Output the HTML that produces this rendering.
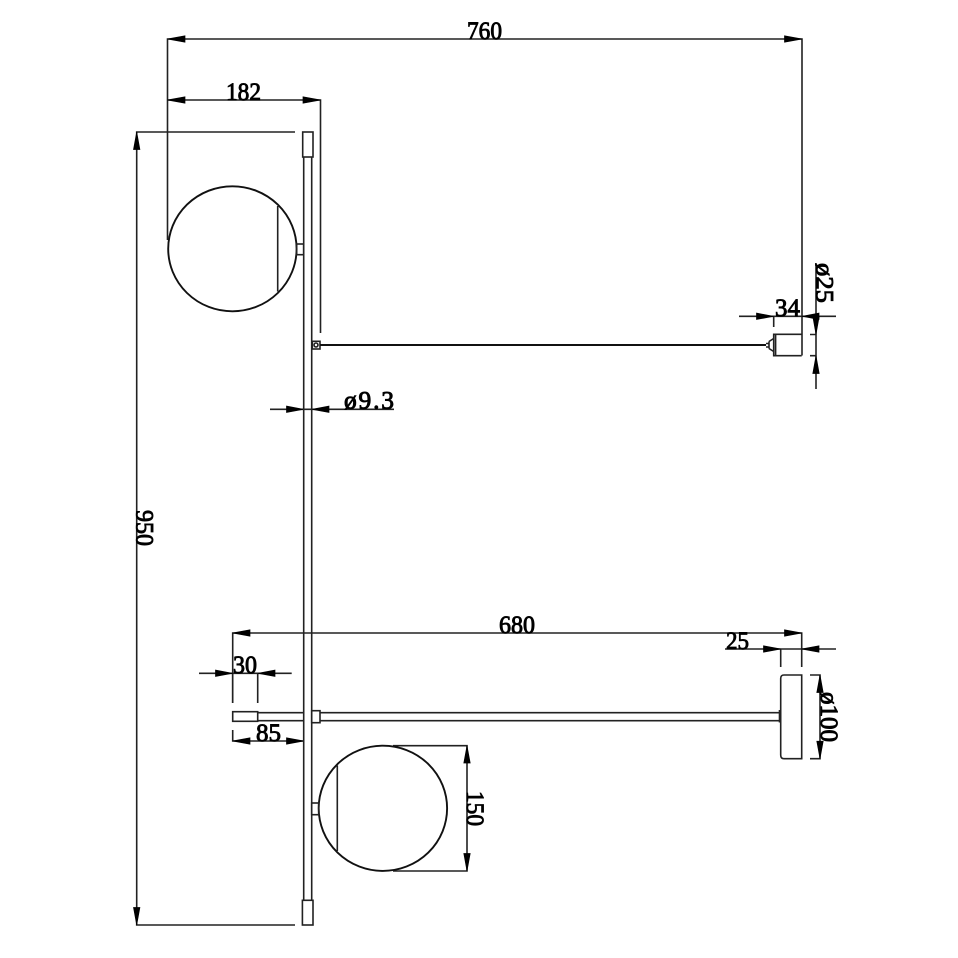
<!DOCTYPE html>
<html>
<head>
<meta charset="utf-8">
<style>
html,body{margin:0;padding:0;background:#fff;}
svg{display:block;}
text{font-family:"Liberation Serif","Noto Serif CJK SC",serif;font-size:25.5px;fill:#000;stroke:#000;stroke-width:.9px;}
.l{fill:none;stroke:#222;stroke-width:1.6;}
.t{fill:none;stroke:#111;stroke-width:1.9;}
.a{fill:#000;stroke:#000;stroke-width:.7;}
</style>
</head>
<body>
<svg width="958" height="958" viewBox="0 0 958 958" xmlns="http://www.w3.org/2000/svg">
<rect width="958" height="958" fill="#fff"/>

<!-- dimension lines -->
<path class="l" d="M167.5 240V39H802V355.5"/>
<path class="l" d="M167.5 100H320.5V333"/>
<path class="l" d="M295 132H136.7V925H295"/>
<path class="l" d="M270 409.3H394"/>
<path class="l" d="M739 316.3H836"/>
<path class="l" d="M773.7 316.3V327"/>
<path class="l" d="M816 263V389"/>
<path class="l" d="M810 334.5H816M810 355.7H816"/>
<path class="l" d="M232.7 703V633H801.7V667"/>
<path class="l" d="M725 649H836"/>
<path class="l" d="M780.7 649V667"/>
<path class="l" d="M199 673.3H291.7"/>
<path class="l" d="M232.7 673V703M257.7 673V703"/>
<path class="l" d="M232.7 730V741H303.7"/>
<path class="l" d="M810 675H820V758.7H810"/>
<path class="l" d="M393 745.7H467V871H393"/>

<!-- arrowheads -->
<g class="a">
<path d="M167.5 39L185 35.8V42.2Z"/>
<path d="M802 39L784.5 35.8V42.2Z"/>
<path d="M167.5 100L185 96.8V103.2Z"/>
<path d="M320.5 100L303 96.8V103.2Z"/>
<path d="M136.7 132L133.5 149.5H139.9Z"/>
<path d="M136.7 925L133.5 907.5H139.9Z"/>
<path d="M303.7 409.3L286.5 406.1V412.5Z"/>
<path d="M311.7 409.3L329 406.1V412.5Z"/>
<path d="M773.7 316.3L756.5 313.1V319.5Z"/>
<path d="M802 316.3L819 313.1V319.5Z"/>
<path d="M816 334.5L812.8 316.5H819.2Z"/>
<path d="M816 355.7L812.8 373.5H819.2Z"/>
<path d="M232.7 633L250 629.8V636.2Z"/>
<path d="M801.7 633L784.5 629.8V636.2Z"/>
<path d="M780.7 649L763.5 645.8V652.2Z"/>
<path d="M801.7 649L819 645.8V652.2Z"/>
<path d="M232.7 673.3L215.5 670.1V676.5Z"/>
<path d="M257.7 673.3L275 670.1V676.5Z"/>
<path d="M232.7 741L250 737.8V744.2Z"/>
<path d="M303.7 741L286.5 737.8V744.2Z"/>
<path d="M820 675L816.8 692.5H823.2Z"/>
<path d="M820 758.7L816.8 741.2H823.2Z"/>
<path d="M467 745.7L463.8 763H470.2Z"/>
<path d="M467 871L463.8 853.5H470.2Z"/>
</g>

<!-- rod -->
<path class="l" d="M303.7 157V900.3M311.7 157V900.3"/>
<rect class="l" x="302.7" y="132" width="10.3" height="25"/>
<rect class="l" x="302.4" y="900.3" width="10.6" height="24.7"/>

<!-- upper globe -->
<ellipse class="t" cx="232.4" cy="248.8" rx="64.2" ry="62.5"/>
<path class="l" d="M277.7 206V291.5"/>
<rect class="l" x="296.7" y="244" width="7" height="10.7"/>

<!-- upper arm -->
<rect class="l" x="312.3" y="341.3" width="7.7" height="7.7"/>
<circle class="l" cx="316" cy="345" r="2"/>
<path d="M320 345H766" fill="none" stroke="#111" stroke-width="2.1"/>
<path class="l" d="M766 343.5H769V347H766M769 341.5L773.7 338.5M769 348.5L773.7 351.5M769 341.5V348.5"/>
<path class="l" d="M801.7 334.3H773.7V355.7H801.7M775.6 334.3V355.7"/>

<!-- lower arm -->
<rect class="l" x="232.7" y="711.7" width="25" height="9.6"/>
<path class="l" d="M257.7 712.7H303.7M257.7 720.7H303.7"/>
<rect class="l" x="311.7" y="710.7" width="8.3" height="12"/>
<path class="l" d="M320 712.7H780M320 720.7H780"/>
<path class="l" d="M779.5 710V722.5"/>
<path class="l" d="M801.7 675H784C781.8 675 780.7 676.2 780.7 678.5V755C780.7 757.5 781.8 758.7 784 758.7H801.7Z"/>

<!-- lower globe -->
<ellipse class="t" cx="382.9" cy="808.3" rx="64.2" ry="62.6"/>
<path class="l" d="M337.3 765.5V851"/>
<rect class="l" x="311.7" y="803" width="7" height="11.7"/>

<!-- labels -->
<text x="467" y="39" textLength="35" lengthAdjust="spacingAndGlyphs">760</text>
<text x="226" y="100" textLength="35" lengthAdjust="spacingAndGlyphs">182</text>
<text x="775" y="316" textLength="25" lengthAdjust="spacingAndGlyphs">34</text>
<text x="344" y="408.5" textLength="50" lengthAdjust="spacing">ø9.3</text>
<text x="499" y="633" textLength="36" lengthAdjust="spacingAndGlyphs">680</text>
<text x="726" y="649" textLength="23" lengthAdjust="spacingAndGlyphs">25</text>
<text x="233" y="673" textLength="24" lengthAdjust="spacingAndGlyphs">30</text>
<text x="256" y="741" textLength="25" lengthAdjust="spacingAndGlyphs">85</text>
<text transform="translate(816.5 263) rotate(90)" textLength="40" lengthAdjust="spacingAndGlyphs">ø25</text>
<text transform="translate(821 692) rotate(90)" textLength="50" lengthAdjust="spacingAndGlyphs">ø100</text>
<text transform="translate(467 791) rotate(90)" textLength="35" lengthAdjust="spacingAndGlyphs">150</text>
<text transform="translate(136.7 510) rotate(90)" textLength="36" lengthAdjust="spacingAndGlyphs">950</text>
</svg>
</body>
</html>
